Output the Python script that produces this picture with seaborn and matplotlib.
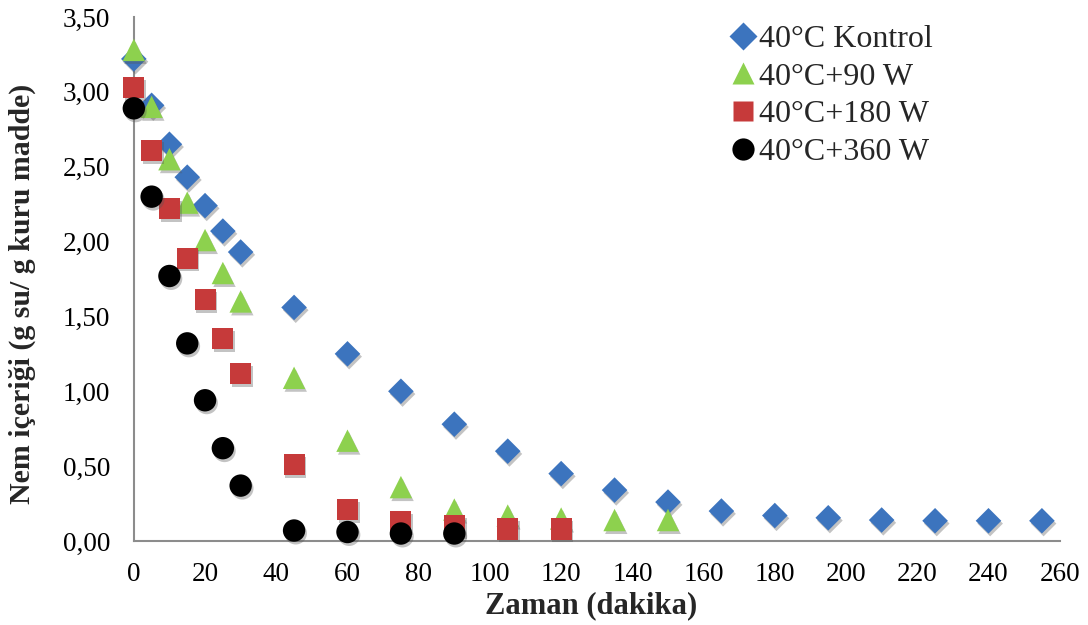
import matplotlib
matplotlib.use("Agg")
import matplotlib.pyplot as plt
import matplotlib.patheffects as pe
from matplotlib.lines import Line2D
from matplotlib.ticker import MultipleLocator, FuncFormatter
import pandas as pd
import seaborn as sns

# Drying time (min) and moisture content (g water / g dry matter)
t_kontrol = [0, 5, 10, 15, 20, 25, 30, 45, 60, 75, 90, 105, 120, 135, 150,
             165, 180, 195, 210, 225, 240, 255]
m_kontrol = [3.22, 2.91, 2.65, 2.43, 2.24, 2.07, 1.93, 1.56, 1.25, 1.00, 0.78,
             0.60, 0.45, 0.34, 0.26, 0.20, 0.17, 0.155, 0.14, 0.135, 0.135, 0.135]

t_90w = [0, 5, 10, 15, 20, 25, 30, 45, 60, 75, 90, 105, 120, 135, 150]
m_90w = [3.28, 2.90, 2.55, 2.26, 2.01, 1.79, 1.60, 1.09, 0.67, 0.36, 0.21,
         0.17, 0.15, 0.14, 0.14]

t_180w = [0, 5, 10, 15, 20, 25, 30, 45, 60, 75, 90, 105, 120]
m_180w = [3.03, 2.61, 2.22, 1.89, 1.61, 1.35, 1.12, 0.51, 0.21, 0.13, 0.10,
          0.08, 0.08]

t_360w = [0, 5, 10, 15, 20, 25, 30, 45, 60, 75, 90]
m_360w = [2.89, 2.30, 1.77, 1.32, 0.94, 0.62, 0.37, 0.07, 0.06, 0.05, 0.05]

series_names = ["40°C Kontrol", "40°C+90 W", "40°C+180 W", "40°C+360 W"]

frames = []
for name, t, m in zip(series_names,
                      [t_kontrol, t_90w, t_180w, t_360w],
                      [m_kontrol, m_90w, m_180w, m_360w]):
    frames.append(pd.DataFrame({"Zaman": t, "Nem": m, "Seri": name}))
df = pd.concat(frames, ignore_index=True)

sns.set_theme(style="white")
plt.rcParams["font.family"] = ["Liberation Serif", "DejaVu Serif"]

palette = {"40°C Kontrol": "#3C74BE", "40°C+90 W": "#8DD14E",
           "40°C+180 W": "#C63A3A", "40°C+360 W": "#000000"}
markers = {"40°C Kontrol": "D", "40°C+90 W": "^",
           "40°C+180 W": "s", "40°C+360 W": "o"}
sizes = {"40°C Kontrol": 170, "40°C+90 W": 260,
         "40°C+180 W": 230, "40°C+360 W": 260}

fig = plt.figure(figsize=(10.88, 6.25), dpi=100)
ax = fig.add_axes([0.123, 0.1344, 0.851, 0.8384])

shadow = [pe.SimplePatchShadow(offset=(1.2, -2.0), shadow_rgbFace="#555555",
                               alpha=0.35), pe.Normal()]

# later series are drawn on top of earlier ones
for name in series_names:
    sub = df[df["Seri"] == name]
    n_before = len(ax.collections)
    sns.scatterplot(data=sub, x="Zaman", y="Nem", color=palette[name],
                    marker=markers[name], s=sizes[name], edgecolor="none",
                    linewidth=0, ax=ax, legend=False, zorder=3,
                    clip_on=False)
    for c in ax.collections[n_before:]:
        c.set_path_effects(shadow)

ax.set_xlim(0, 260)
ax.set_ylim(0, 3.5)
ax.xaxis.set_major_locator(MultipleLocator(20))
ax.yaxis.set_major_locator(MultipleLocator(0.5))
ax.yaxis.set_major_formatter(
    FuncFormatter(lambda v, p: f"{v:.2f}".replace(".", ",")))

for side in ["top", "right"]:
    ax.spines[side].set_visible(False)
for side in ["left", "bottom"]:
    ax.spines[side].set_color("#8C8C8C")
    ax.spines[side].set_linewidth(1.5)

ax.tick_params(axis="both", which="major", direction="out", length=6,
               width=1.3, color="#8C8C8C", labelsize=19.5, labelcolor="black")
ax.tick_params(axis="x", pad=9)
ax.tick_params(axis="y", pad=11)

ax.set_xlabel("Zaman (dakika)", fontsize=22, fontweight="bold")
ax.set_ylabel("Nem içeriği (g su/ g kuru madde)", fontsize=21.5,
              fontweight="bold")
ax.xaxis.set_label_coords(0.494, -0.096)
ax.yaxis.set_label_coords(-0.106, 0.471)

handles = []
leg_ms = {"40°C Kontrol": 14, "40°C+90 W": 16, "40°C+180 W": 15,
          "40°C+360 W": 16}
for name in series_names:
    handles.append(Line2D([], [], linestyle="none", marker=markers[name],
                          markersize=leg_ms[name], markerfacecolor=palette[name],
                          markeredgecolor="none"))
fig.legend(handles, series_names, loc="upper left",
           bbox_to_anchor=(0.671, 0.9606), frameon=False, fontsize=23,
           handletextpad=0.1, labelspacing=0.26, handlelength=0.8,
           borderpad=0, borderaxespad=0)

fig.savefig("out.png", dpi=100)
